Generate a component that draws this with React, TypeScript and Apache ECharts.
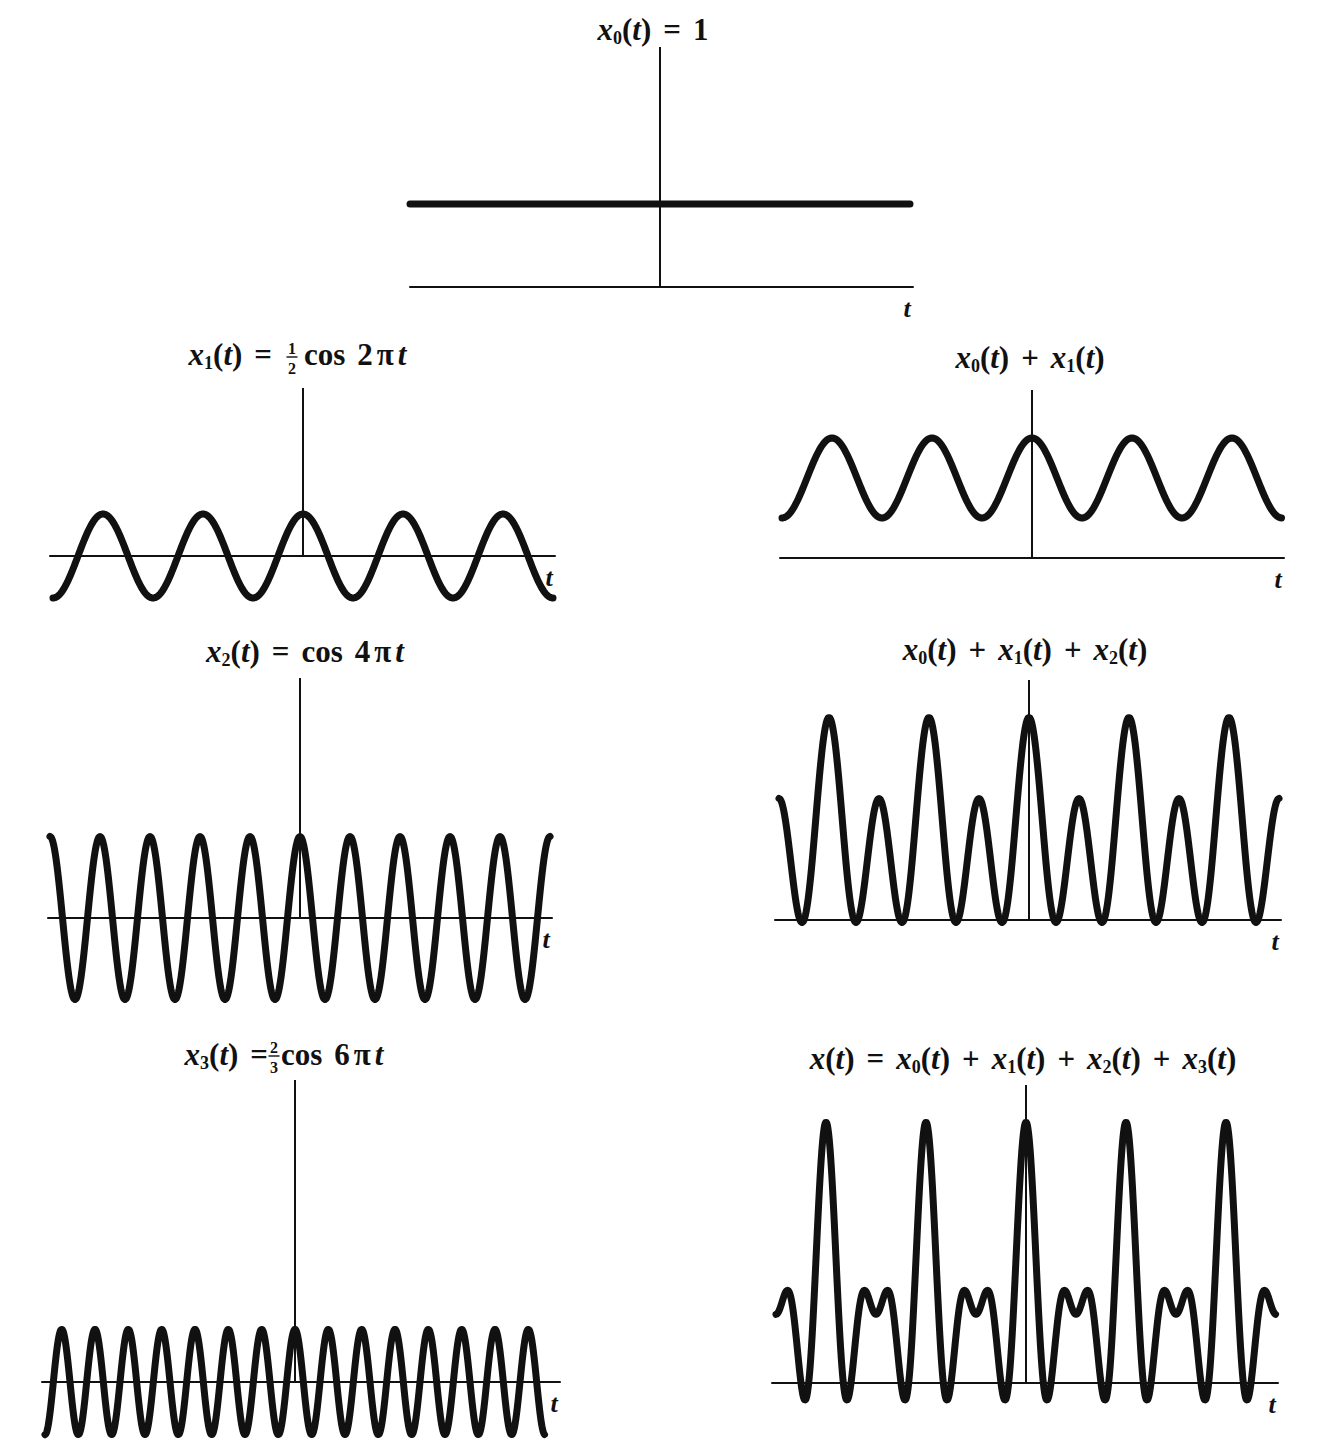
import React, { useEffect, useRef } from "react";
import * as echarts from "echarts";

// ---- data (titles give amplitude and harmonic of each component) ----
const AMPLITUDES = [1, 1 / 2, 1, 2 / 3]; // x0 .. x3
const HARMONICS = [0, 1, 2, 3]; // xk(t) = a_k cos(2π k t)
const PANEL_TERMS = [[0], [1], [0, 1], [2], [0, 1, 2], [3], [0, 1, 2, 3]];
const T_RANGE = [-2.5, 2.5];
const T_STEP = 0.005;

// ---- layout (pixels / axis extents) ----
const KX = 100; // px per unit of t
const PAGE_H = 1445;
const PANEL_LAYOUT = [
  { cx: 660, axisY: 287, topY: 47, k: 83, tMin: -2.5, tMax: 2.53 },
  { cx: 303, axisY: 556, topY: 388, k: 84, tMin: -2.53, tMax: 2.52 },
  { cx: 1032, axisY: 558, topY: 390, k: 80, tMin: -2.52, tMax: 2.52 },
  { cx: 300, axisY: 918, topY: 678, k: 81.5, tMin: -2.52, tMax: 2.52 },
  { cx: 1029, axisY: 920, topY: 680, k: 81, tMin: -2.54, tMax: 2.52 },
  { cx: 295, axisY: 1382, topY: 1080, k: 79, tMin: -2.53, tMax: 2.65 },
  { cx: 1026, axisY: 1383, topY: 1085, k: 82.4, tMin: -2.54, tMax: 2.52 },
];

const SERIF = '"Liberation Serif", "Times New Roman", serif';
const INK = "#111";
const FS = 31;

const rich = {
  i: { fontFamily: SERIF, fontStyle: "italic", fontWeight: "bold", fontSize: FS, lineHeight: 36, fill: INK, color: INK },
  n: { fontFamily: SERIF, fontWeight: "bold", fontSize: FS, lineHeight: 36, fill: INK, color: INK },
  s: { fontFamily: SERIF, fontWeight: "bold", fontSize: 18, lineHeight: 18, verticalAlign: "bottom", fill: INK, color: INK },
  w: { fontFamily: SERIF, fontSize: FS, lineHeight: 36, width: 12 },
  v: { fontFamily: SERIF, fontSize: FS, lineHeight: 36, width: 4 },
};

const xt = (k: number | null) =>
  (k === null ? "{i|x}" : `{i|x}{s|${k}}`) + "{n|(}{i|t}{n|)}";
const op = (o: string) => `{w| }{n|${o}}{w| }`;
const cosTerm = (m: number) => `{n|cos}{w| }{n|${m}}{v| }{n|π}{v| }{i|t}`;

function sample(terms: number[]) {
  const pts: number[][] = [];
  const n = Math.round((T_RANGE[1] - T_RANGE[0]) / T_STEP);
  for (let j = 0; j <= n; j++) {
    const t = T_RANGE[0] + j * T_STEP;
    let v = 0;
    for (const k of terms) v += AMPLITUDES[k] * Math.cos(2 * Math.PI * HARMONICS[k] * t);
    pts.push([t, v]);
  }
  return pts;
}

function textEl(x: number, y: number, text: string, align: string) {
  return { type: "text", x, y, z: 10, style: { text, rich, align, verticalAlign: "middle", fill: INK } };
}

function fraction(x: number, y: number, num: string, den: string) {
  const st = { fontFamily: SERIF, fontWeight: "bold", fontSize: 16, fill: INK, align: "center", verticalAlign: "middle" };
  return {
    type: "group",
    x,
    y,
    z: 10,
    children: [
      { type: "text", x: 0, y: -9, style: { ...st, text: num } },
      { type: "line", shape: { x1: -5.5, y1: 0, x2: 5.5, y2: 0 }, style: { stroke: INK, lineWidth: 1.4 } },
      { type: "text", x: 0, y: 11, style: { ...st, text: den } },
    ],
  };
}

export default function App() {
  const ref = useRef<HTMLDivElement>(null);
  useEffect(() => {
    document.body.style.margin = "0";
    document.body.style.overflow = "hidden";
    const chart = echarts.init(ref.current!, null, { renderer: "svg" });

    const grids: any[] = [];
    const xAxes: any[] = [];
    const yAxes: any[] = [];
    const series: any[] = [];
    PANEL_TERMS.forEach((terms, i) => {
      const L = PANEL_LAYOUT[i];
      const yMax = (L.axisY - L.topY) / L.k;
      const yMin = -Math.min(1.4, (PAGE_H - 6 - L.axisY) / L.k);
      grids.push({
        left: L.cx + L.tMin * KX,
        width: (L.tMax - L.tMin) * KX,
        top: L.topY,
        height: (yMax - yMin) * L.k,
        containLabel: false,
      });
      xAxes.push({
        type: "value",
        gridIndex: i,
        min: L.tMin,
        max: L.tMax,
        axisLine: { show: true, onZero: true, lineStyle: { color: INK, width: 2 } },
        axisTick: { show: false },
        axisLabel: { show: false },
        splitLine: { show: false },
        name: "t",
        nameLocation: "end",
        nameGap: -6,
        nameTextStyle: {
          fontFamily: SERIF,
          fontStyle: "italic",
          fontWeight: "bold",
          fontSize: 26,
          color: INK,
          align: "center",
          verticalAlign: "top",
          padding: [8, 0, 0, 0],
        },
      });
      yAxes.push({
        type: "value",
        gridIndex: i,
        min: yMin,
        max: yMax,
        show: false,
        splitLine: { show: false },
      });
      series.push({
        type: "line",
        xAxisIndex: i,
        yAxisIndex: i,
        data: sample(terms),
        showSymbol: false,
        clip: false,
        lineStyle: { color: INK, width: 7, cap: "round", join: "round" },
        z: 2,
      });
      series.push({
        type: "line",
        xAxisIndex: i,
        yAxisIndex: i,
        data: [
          [0, 0],
          [0, yMax],
        ],
        showSymbol: false,
        clip: false,
        lineStyle: { color: INK, width: 2 },
        z: 3,
      });
    });

    const graphic: any[] = [
      textEl(653, 29, `${xt(0)}${op("=")}{n|1}`, "center"),
      textEl(284, 354, `${xt(1)}${op("=")}`, "right"),
      fraction(292, 357, "1", "2"),
      textEl(304, 354, cosTerm(2), "left"),
      textEl(1030, 357, `${xt(0)}${op("+")}${xt(1)}`, "center"),
      textEl(305, 651, `${xt(2)}${op("=")}${cosTerm(4)}`, "center"),
      textEl(1025, 649, `${xt(0)}${op("+")}${xt(1)}${op("+")}${xt(2)}`, "center"),
      textEl(268, 1054, `${xt(3)}{w| }{n|=}`, "right"),
      fraction(274, 1056, "2", "3"),
      textEl(281, 1054, cosTerm(6), "left"),
      textEl(
        1023,
        1058,
        `${xt(null)}${op("=")}${xt(0)}${op("+")}${xt(1)}${op("+")}${xt(2)}${op("+")}${xt(3)}`,
        "center"
      ),
    ];

    chart.setOption({
      animation: false,
      backgroundColor: "#fff",
      grid: grids,
      xAxis: xAxes,
      yAxis: yAxes,
      series,
      graphic,
    });
    return () => chart.dispose();
  }, []);
  return <div ref={ref} style={{ width: 1344, height: 1445, background: "#fff" }} />;
}
